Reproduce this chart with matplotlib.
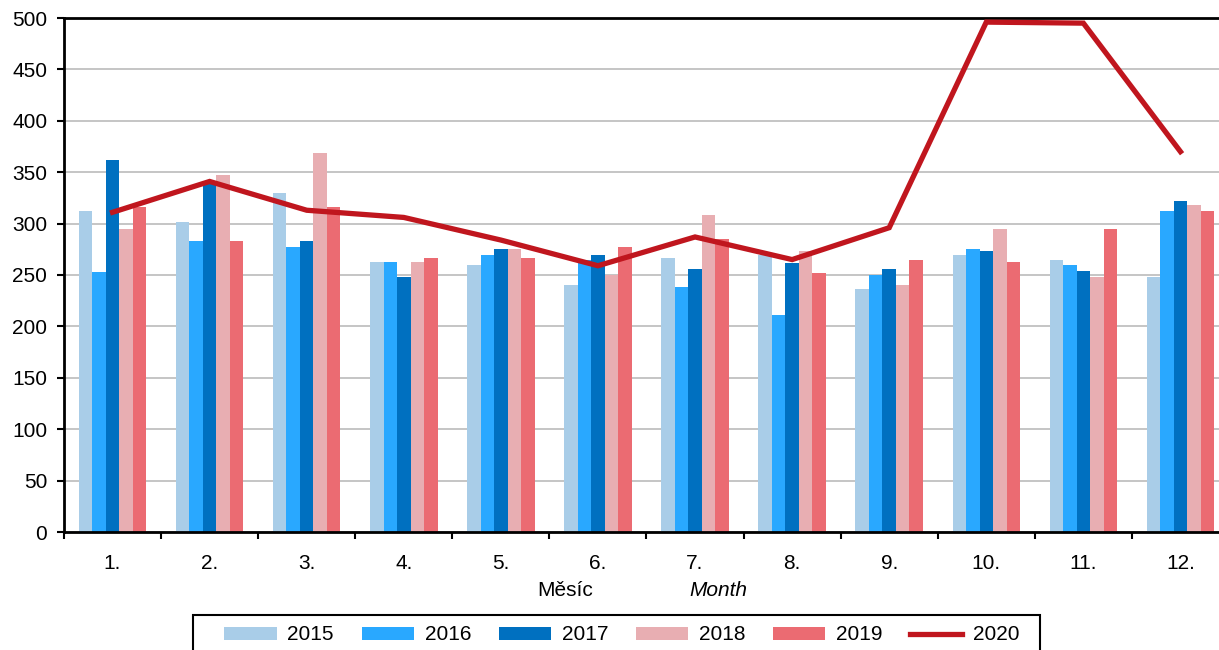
import numpy as np
import matplotlib.pyplot as plt
from matplotlib.patches import Rectangle

plt.rcParams['font.family'] = ['Liberation Sans', 'DejaVu Sans']

months = ['1.', '2.', '3.', '4.', '5.', '6.', '7.', '8.', '9.', '10.', '11.', '12.']
v2015 = [312, 302, 330, 263, 260, 240, 267, 269, 236, 269, 265, 248]
v2016 = [253, 283, 277, 263, 269, 265, 238, 211, 250, 275, 260, 312]
v2017 = [362, 340, 283, 248, 275, 269, 256, 262, 256, 273, 254, 322]
v2018 = [295, 347, 369, 263, 275, 250, 308, 273, 240, 295, 248, 318]
v2019 = [316, 283, 316, 267, 267, 277, 285, 252, 265, 263, 295, 312]
v2020 = [311, 341, 313, 306, 284, 259, 287, 265, 296, 496, 495, 370]

bar_series = [('2015', v2015, '#A9CDE8'),
              ('2016', v2016, '#29A8FF'),
              ('2017', v2017, '#0070C0'),
              ('2018', v2018, '#E8AEB2'),
              ('2019', v2019, '#EB6B72')]

fig = plt.figure(figsize=(12.19, 6.5), dpi=100)
ax = fig.add_axes([64/1219, 1-532/650, 1165/1219, 514/650])

x = np.arange(len(months))
w = 0.139
handles = []
for i, (name, vals, col) in enumerate(bar_series):
    b = ax.bar(x + (i - 2) * w, vals, w, color=col, label=name, zorder=2)
    handles.append(b)
ln, = ax.plot(x, v2020, color='#C0161E', lw=3.8, label='2020', zorder=3,
              solid_joinstyle='miter')
handles.append(ln)

ax.set_xlim(-0.5, len(months) - 0.5)
ax.set_ylim(0, 500)
ax.set_yticks(np.arange(0, 501, 50))
ax.set_xticks(x)
ax.set_xticklabels(months)
ax.set_xticks(np.arange(-0.5, len(months), 1), minor=True)
ax.tick_params(axis='x', which='major', length=0, pad=16, labelsize=15)
ax.tick_params(axis='x', which='minor', length=5, width=1.5, direction='out')
ax.tick_params(axis='y', length=5, width=1.5, pad=7, labelsize=15)
ax.grid(axis='y', color='#C0C0C0', lw=1.3, zorder=0)
ax.set_axisbelow(True)
for s in ['left', 'bottom', 'top']:
    ax.spines[s].set_linewidth(2)
    ax.spines[s].set_color('black')
ax.spines['right'].set_visible(False)

fig.text(565/1219, 1-590/650, 'Měsíc', ha='center', va='center', fontsize=15)
fig.text(718/1219, 1-590/650, 'Month', ha='center', va='center', fontsize=15,
         style='italic')

# legend box runs past the bottom edge of the picture
fig.patches.append(Rectangle((193/1219, -0.05), 847/1219, 0.05 + 1 - 615/650,
                             fill=False, ec='black', lw=1.5,
                             transform=fig.transFigure))
fig.legend(handles, [h.get_label() for h in handles],
           loc='center', bbox_to_anchor=(622/1219, 1-635/650), ncol=6,
           fontsize=15, frameon=False,
           handlelength=2.5, handleheight=0.6, columnspacing=1.33,
           handletextpad=0.52, borderpad=0, borderaxespad=0)

fig.savefig('out.png', dpi=100)
